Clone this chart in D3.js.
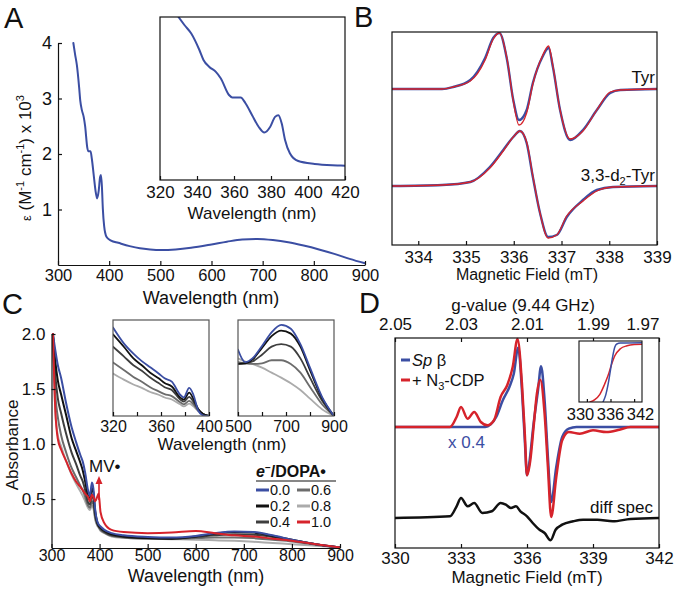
<!DOCTYPE html>
<html><head><meta charset="utf-8">
<script src="https://cdn.jsdelivr.net/npm/d3@7"></script>
<style>
body{margin:0;background:#fff}
text{font-family:"Liberation Sans",Arial,Helvetica,sans-serif;fill:#111}
</style>
</head><body>
<svg id="c" width="677" height="589"></svg>
<script>
// ---------- DATA ----------
// Panel A: UV-vis of radical (epsilon x 10^3)
const wlA = [330,333.3,336.9,341.3,343.5,346.7,350.2,352.9,357.3,359.1,363.6,366.2,369.8,373.3,376.4,379.6,382.2,384,385.8,387.6,390.2,394.7,403.6,417.8,440,460,480,500,530,560,600,630,660,690,720,750,780,810,840,870,900];
const epsA = [4.0,3.80,3.60,3.20,2.96,2.79,2.67,2.51,2.11,2.05,2.05,1.91,1.62,1.34,1.20,1.34,1.58,1.62,1.42,1.02,0.70,0.51,0.44,0.40,0.34,0.30,0.28,0.27,0.28,0.31,0.37,0.42,0.46,0.47,0.45,0.41,0.35,0.28,0.20,0.11,0.03];
const ticksAx = [300,400,500,600,700,800,900];
const ticksAy = [1,2,3,4];
const ticksAinset = [320,340,360,380,400,420];

// Panel B: EPR, Tyr and 3,3-d2-Tyr (blue = data, red = simulation)
const fieldTyr = [333.45,334.5,334.73,335.09,335.4,335.57,335.7,335.86,335.99,336.11,336.27,336.4,336.6,336.73,336.82,336.97,337.18,337.45,337.74,338.02,338.23,339];
const tyrBlue  = [0,0,2,9,31,51,56,29,-11,-31,-21,6,32,41,22,-21,-51,-41,-21,-4,-1,0];
const tyrRed   = [0,0,2,8,29,50,56,30,-12,-36,-24,5,33,43,23,-21,-50,-42,-21,-3,-1,0];
const fieldD2  = [333.45,334.5,335.09,335.5,335.78,335.99,336.13,336.27,336.4,336.55,336.72,336.9,337.11,337.45,337.74,338.08,339];
const d2Blue   = [0,1,4,19,36,49,55,43,9,-27,-51,-49,-31,-14,-4,-1,0];
const d2Red    = [0,1,4,18,35,49,55,44,10,-27,-52,-49,-30,-15,-5,-1,0];
const offTyr = 156, offD2 = 59;
const ticksB = [334,335,336,337,338,339];

// Panel C: titration, e-/DOPA.
const ratiosC = ["0.0","0.2","0.4","0.6","0.8","1.0"];
const wlC = [303,308,313,320,330,342,351,360,365,370,376,380,384,387,391,395,398,402,410,425,450,500,550,600,640,680,720,760,800,850,900];
const absC00 = [2.0,1.85,1.72,1.60,1.38,1.15,1.02,0.90,0.84,0.74,0.58,0.53,0.65,0.60,0.40,0.30,0.27,0.25,0.22,0.19,0.17,0.155,0.15,0.165,0.19,0.205,0.20,0.17,0.13,0.09,0.06];
const absC02 = [2.0,1.75,1.58,1.45,1.27,1.05,0.94,0.83,0.76,0.66,0.53,0.50,0.60,0.56,0.38,0.29,0.26,0.24,0.21,0.18,0.16,0.145,0.14,0.16,0.185,0.20,0.195,0.165,0.13,0.09,0.06];
const absC04 = [2.0,1.62,1.42,1.28,1.10,0.92,0.82,0.71,0.66,0.58,0.47,0.45,0.54,0.50,0.35,0.28,0.25,0.23,0.20,0.17,0.155,0.145,0.14,0.155,0.17,0.18,0.175,0.155,0.125,0.09,0.06];
const absC06 = [2.0,1.45,1.25,1.08,0.93,0.78,0.70,0.62,0.58,0.52,0.44,0.42,0.48,0.45,0.33,0.27,0.25,0.22,0.195,0.165,0.15,0.14,0.138,0.145,0.15,0.15,0.145,0.13,0.115,0.085,0.06];
const absC08 = [2.0,1.30,1.08,0.98,0.85,0.72,0.64,0.57,0.53,0.48,0.42,0.40,0.44,0.42,0.31,0.26,0.24,0.21,0.19,0.16,0.148,0.14,0.135,0.13,0.125,0.12,0.112,0.10,0.09,0.075,0.06];
const absC10 = [2.0,1.30,1.05,0.95,0.85,0.73,0.66,0.61,0.58,0.55,0.52,0.48,0.54,0.52,0.48,0.52,0.55,0.38,0.28,0.22,0.20,0.19,0.195,0.21,0.19,0.17,0.16,0.14,0.12,0.09,0.06];
const ticksCx = [300,400,500,600,700,800,900];
const ticksCy = [0.5,1.0,1.5,2.0];
// inset 1 (320-400 nm)
const wlC1 = [320,329,337,344,351,358,363,369,376,379,383.5,387,391,395,400];
const in1C00 = [1.54,1.31,1.16,1.05,0.96,0.87,0.80,0.75,0.56,0.52,0.66,0.56,0.33,0.26,0.25];
const in1C02 = [1.44,1.26,1.09,0.99,0.88,0.80,0.73,0.68,0.52,0.49,0.59,0.50,0.35,0.28,0.25];
const in1C04 = [1.26,1.12,0.99,0.91,0.81,0.73,0.67,0.63,0.49,0.46,0.53,0.46,0.35,0.28,0.25];
const in1C06 = [1.03,0.92,0.82,0.75,0.67,0.61,0.57,0.54,0.45,0.42,0.47,0.42,0.33,0.28,0.25];
const in1C08 = [0.87,0.78,0.71,0.66,0.60,0.56,0.52,0.49,0.42,0.39,0.43,0.39,0.32,0.28,0.25];
const ticksC1 = [320,340,360,380,400];
const labelsC1 = [320,360,400];
// inset 2 (500-900 nm)
const wlC2 = [500,530,560,600,640,680,720,760,800,850,900];
const in2C00 = [0.167,0.147,0.153,0.173,0.195,0.207,0.201,0.176,0.138,0.091,0.06];
const in2C02 = [0.144,0.145,0.151,0.170,0.189,0.198,0.193,0.172,0.134,0.089,0.06];
const in2C04 = [0.144,0.145,0.148,0.159,0.172,0.176,0.172,0.153,0.122,0.085,0.06];
const in2C06 = [0.147,0.145,0.144,0.145,0.150,0.150,0.144,0.130,0.107,0.079,0.06];
const in2C08 = [0.153,0.148,0.144,0.138,0.130,0.122,0.113,0.102,0.088,0.071,0.06];
const ticksC2 = [500,600,700,800,900];
const labelsC2 = [500,700,900];

// Panel D: EPR Sp beta vs + N3-CDP, difference spectrum
const fieldBlueD = [329.9,334.1,334.6,334.9,335.2,335.4,335.6,335.77,335.9,336.0,336.1,336.3,336.5,336.64,336.8,336.95,337.1,337.33,337.6,337.9,338.25,342];
const spBeta     = [0,0,10,26.7,40,53.3,79.3,36.7,-13.3,-48.3,-36.7,3.3,36.7,60.7,26.7,-30,-75,-40,-10,-1.7,0,0];
const fieldRedD  = [329.9,332.5,332.8,333.0,333.3,333.6,333.9,334.2,334.5,334.8,335.1,335.35,335.57,335.77,335.9,336.0,336.15,336.3,336.45,336.6,336.8,336.95,337.1,337.33,337.6,337.9,338.4,339.0,339.6,340.2,340.7,341.2,342];
const spN3CDP    = [0,0,10,20,8.3,15,5,1.7,6.7,30,41.7,60,88,43.3,-6.7,-48.3,-33.3,0,33.3,47.3,13.3,-40,-90,-50,-13.3,-5,-6.7,-3.3,-5,-2.7,0,0,0];
const fieldDiff  = [329.9,332.5,332.8,333.0,333.3,333.6,333.97,334.4,334.8,335.04,335.27,335.5,335.7,336.0,336.26,336.57,336.8,337.07,337.3,337.6,338.1,338.55,339.2,339.9,340.7,342];
const diffSpec   = [0,1.7,11.7,20,11.7,15,5,6.7,15,13.3,10,11.7,6.7,1.7,-5,-11.7,-15,-22.3,-11.7,-6.7,-3.3,-1.7,-1.7,-3.3,-1,0];
const offMain = 121, offDiff = 30;
const ticksDx = [330,333,336,339,342];
const ticksDg = [2.05,2.03,2.01,1.99,1.97];
// D inset: integrated spectra
const fieldIntBlue = [334.1,334.8,335.4,335.9,336.5,337.1,337.6,338.5,344];
const intBlue      = [0,0.12,0.30,0.50,0.75,0.93,0.98,0.995,1.0];
const fieldIntRed  = [330.8,332,333.3,334.5,335.4,336.2,337.1,338.5,340.2,342,344];
const intRed       = [0,0.04,0.13,0.30,0.45,0.62,0.78,0.90,0.95,0.97,0.975];
const ticksDi = [330,336,342];

// ---------- DRAW ----------
const BLUE = '#3b4ea3', RED = '#d6232b';
const GRAYS = {"0.0":BLUE,"0.2":'#111111',"0.4":'#3e3e3e',"0.6":'#6c6c6c',"0.8":'#ababab',"1.0":RED};
const svg = d3.select('#c');
const defs = svg.append('defs');
function clip(id,x0,y0,x1,y1){
  defs.append('clipPath').attr('id',id).append('rect').attr('x',x0).attr('y',y0).attr('width',x1-x0).attr('height',y1-y0);
  return `url(#${id})`;
}
function styleAxis(sel, fs){
  sel.attr('font-family',null).attr('font-size',null);
  sel.selectAll('text').style('font-size',fs+'px').attr('fill','#111');
  sel.selectAll('path.domain, .tick line').attr('stroke','#111').attr('stroke-width',1.2);
}
function path(g, x, y, xs, ys, color, w, off=0, clipUrl=null){
  const gen = d3.line().x((d,i)=>x(xs[i])).y(d=>y(d+off)).curve(d3.curveMonotoneX);
  const p = g.append('path').attr('d',gen(ys)).attr('fill','none').attr('stroke',color)
    .attr('stroke-width',w).attr('stroke-linejoin','round').attr('stroke-linecap','round');
  if(clipUrl) p.attr('clip-path',clipUrl);
  return p;
}
function label(g, x, y, txt, fs, anchor='middle', extra={}){
  const t = g.append('text').attr('x',x).attr('y',y).attr('dy','0.35em').attr('text-anchor',anchor).style('font-size',fs+'px').text(txt);
  for(const k in extra) t.attr(k, extra[k]);
  return t;
}
function box(g,x0,y0,x1,y1,w=1.2,col='#111'){
  g.append('rect').attr('x',x0).attr('y',y0).attr('width',x1-x0).attr('height',y1-y0).attr('fill','none').attr('stroke',col).attr('stroke-width',w);
}
function panelLetter(x,y,t){ svg.append('text').attr('x',x).attr('y',y).style('font-size','29px').text(t); }

// ===== Panel A =====
{
  const g = svg.append('g');
  const x = d3.scaleLinear().domain([300,900]).range([58,365]);
  const y = d3.scaleLinear().domain([0,4]).range([265,43]);
  path(g, x, y, wlA, epsA, BLUE, 2, 0, clip('cA',58,42,366,265));
  g.append('g').attr('transform','translate(0,265)')
    .call(d3.axisBottom(x).tickValues(ticksAx).tickFormat(d3.format('d')).tickSizeInner(-4).tickSizeOuter(0).tickPadding(4)).call(s=>styleAxis(s,16.5));
  g.append('g').attr('transform','translate(58,0)')
    .call(d3.axisLeft(y).tickValues(ticksAy).tickFormat(d3.format('d')).tickSizeInner(-4).tickSizeOuter(0).tickPadding(6)).call(s=>styleAxis(s,18));
  label(g, 211, 298, 'Wavelength (nm)', 18);
  const yl = g.append('text').attr('transform','translate(31,158) rotate(-90)').attr('text-anchor','middle').style('font-size','17px');
  yl.append('tspan').style('font-size','13px').text('ε');
  yl.append('tspan').text(' (M');
  yl.append('tspan').style('font-size','11px').attr('dy',-7).text('-1');
  yl.append('tspan').attr('dy',7).text(' cm');
  yl.append('tspan').style('font-size','11px').attr('dy',-7).text('-1');
  yl.append('tspan').attr('dy',7).text(') x 10');
  yl.append('tspan').style('font-size','11px').attr('dy',-7).text('3');
  // inset
  const xi = d3.scaleLinear().domain([320,420]).range([160,345]);
  const yi = d3.scaleLinear().domain([0.05,4.0]).range([180,17]);
  g.append('rect').attr('x',160).attr('y',17).attr('width',185).attr('height',163).attr('fill','#fff');
  path(g, xi, yi, wlA, epsA, BLUE, 2, 0, clip('cAi',160,17,345,180));
  box(g,160,17,345,180);
  const ax = g.append('g').attr('transform','translate(0,180)')
    .call(d3.axisBottom(xi).tickValues(ticksAinset).tickFormat(d3.format('d')).tickSizeInner(-4).tickSizeOuter(0).tickPadding(6)).call(s=>styleAxis(s,17));
  ax.select('.domain').remove();
  label(g, 252, 213, 'Wavelength (nm)', 17);
  panelLetter(4,28,'A');
}

// ===== Panel B =====
{
  const g = svg.append('g');
  const x = d3.scaleLinear().domain([333.45,339]).range([392,657]);
  const y = d3.scaleLinear().domain([0,213]).range([245,32]);
  const cp = clip('cB',392,32,657,245);
  path(g, x, y, fieldTyr, tyrBlue, BLUE, 2.4, offTyr, cp);
  path(g, x, y, fieldTyr, tyrRed, RED, 1.3, offTyr, cp);
  path(g, x, y, fieldD2, d2Blue, BLUE, 2.4, offD2, cp);
  path(g, x, y, fieldD2, d2Red, RED, 1.3, offD2, cp);
  box(g,392,32,657,245);
  const ax = g.append('g').attr('transform','translate(0,245)')
    .call(d3.axisBottom(x).tickValues(ticksB).tickFormat(d3.format('d')).tickSizeInner(-4).tickSizeOuter(0).tickPadding(6)).call(s=>styleAxis(s,17));
  ax.select('.domain').remove();
  label(g, 527, 274, 'Magnetic Field (mT)', 16);
  label(g, 655, 77, 'Tyr', 17, 'end');
  const t = label(g, 655, 175, '', 17, 'end');
  t.append('tspan').text('3,3-d');
  t.append('tspan').style('font-size','11px').attr('dy',4).text('2');
  t.append('tspan').attr('dy',-4).text('-Tyr');
  panelLetter(354,27,'B');
}

// ===== Panel C =====
{
  const g = svg.append('g');
  const x = d3.scaleLinear().domain([300,900]).range([51.5,340]);
  const y = d3.scaleLinear().domain([0.055,2.0]).range([548,334]);
  const cp = clip('cC',51.5,333,341,548);
  const series = [["0.8",absC08],["0.6",absC06],["0.4",absC04],["0.2",absC02],["0.0",absC00],["1.0",absC10]];
  series.forEach(([k,v])=>path(g, x, y, wlC, v, GRAYS[k], 2, 0, cp));
  g.append('g').attr('transform','translate(0,548)')
    .call(d3.axisBottom(x).tickValues(ticksCx).tickFormat(d3.format('d')).tickSizeInner(-4).tickSizeOuter(0).tickPadding(2)).call(s=>styleAxis(s,16));
  g.append('g').attr('transform','translate(51.5,0)')
    .call(d3.axisLeft(y).tickValues(ticksCy).tickFormat(d3.format('.1f')).tickSizeInner(-4).tickSizeOuter(0).tickPadding(6)).call(s=>styleAxis(s,17));
  label(g, 196, 576, 'Wavelength (nm)', 18);
  label(g, 0, 0, 'Absorbance', 17, 'middle', {transform:'translate(12,445) rotate(-90)'});
  // inset 1
  const x1 = d3.scaleLinear().domain([320,400]).range([113,209]);
  const y1 = d3.scaleLinear().domain([0.25,1.65]).range([416,320]);
  const c1 = clip('cC1',113,320,209,416);
  [["0.8",in1C08],["0.6",in1C06],["0.4",in1C04],["0.2",in1C02],["0.0",in1C00]].forEach(([k,v])=>path(g,x1,y1,wlC1,v,GRAYS[k],1.8,0,c1));
  box(g,113,320,209,416,1.2,'#555');
  const a1 = g.append('g').attr('transform','translate(0,416)')
    .call(d3.axisBottom(x1).tickValues(ticksC1).tickSizeInner(-4).tickSizeOuter(0).tickPadding(5)
      .tickFormat(d=>labelsC1.includes(d)?d:'')).call(s=>styleAxis(s,16));
  a1.select('.domain').remove();
  // inset 2
  const x2 = d3.scaleLinear().domain([500,900]).range([238,334]);
  const y2 = d3.scaleLinear().domain([0.06,0.215]).range([416,320]);
  const c2 = clip('cC2',238,320,334,416);
  [["0.8",in2C08],["0.6",in2C06],["0.4",in2C04],["0.2",in2C02],["0.0",in2C00]].forEach(([k,v])=>path(g,x2,y2,wlC2,v,GRAYS[k],1.8,0,c2));
  box(g,238,320,334,416,1.2,'#555');
  const a2 = g.append('g').attr('transform','translate(0,416)')
    .call(d3.axisBottom(x2).tickValues(ticksC2).tickSizeInner(-4).tickSizeOuter(0).tickPadding(5)
      .tickFormat(d=>labelsC2.includes(d)?d:'')).call(s=>styleAxis(s,16));
  a2.select('.domain').remove();
  label(g, 222, 444, 'Wavelength (nm)', 17);
  // MV label & arrow
  label(g, 89, 466, 'MV•', 17, 'start');
  g.append('line').attr('x1',99).attr('x2',99).attr('y1',500).attr('y2',483).attr('stroke',RED).attr('stroke-width',1.6);
  g.append('path').attr('d','M95.5,484 L99,476 L102.5,484 Z').attr('fill',RED);
  // legend
  const lt = label(g, 256, 471, '', 16, 'start', {'font-weight':'bold'});
  lt.append('tspan').attr('font-style','italic').text('e');
  lt.append('tspan').style('font-size','10px').attr('dy',-6).text('−');
  lt.append('tspan').attr('dy',6).text('/DOPA•');
  g.append('line').attr('x1',256).attr('x2',336).attr('y1',481).attr('y2',481).attr('stroke','#111').attr('stroke-width',1.2);
  ratiosC.forEach((r,i)=>{
    const col = i<3?0:1, row = i%3;
    const lx = col===0?256:297, ly = 490+row*16;
    g.append('line').attr('x1',lx).attr('x2',lx+13).attr('y1',ly).attr('y2',ly).attr('stroke',GRAYS[r]).attr('stroke-width',3);
    label(g, lx+14, ly, r, 14.5, 'start');
  });
  panelLetter(2,314,'C');
}

// ===== Panel D =====
{
  const g = svg.append('g');
  const x = d3.scaleLinear().domain([330,342]).range([395,659]);
  const y = d3.scaleLinear().domain([0,210]).range([548,338]);
  const gv = d3.scaleLinear().domain([2.05,1.97]).range([395,659]);
  const cp = clip('cD',395,337,659,548);
  path(g, x, y, fieldBlueD, spBeta, BLUE, 2.5, offMain, cp);
  path(g, x, y, fieldRedD, spN3CDP, RED, 2.5, offMain, cp);
  path(g, x, y, fieldDiff, diffSpec, '#111', 2.5, offDiff, cp);
  box(g,395,338,659,548);
  const ab = g.append('g').attr('transform','translate(0,548)')
    .call(d3.axisBottom(x).tickValues(ticksDx).tickFormat(d3.format('d')).tickSizeInner(-4).tickSizeOuter(0).tickPadding(4)).call(s=>styleAxis(s,17));
  ab.select('.domain').remove();
  const at = g.append('g').attr('transform','translate(0,338)')
    .call(d3.axisTop(gv).tickValues(ticksDg).tickFormat(d3.format('.2f')).tickSizeInner(-4).tickSizeOuter(0).tickPadding(8)).call(s=>styleAxis(s,17));
  at.select('.domain').remove();
  at.selectAll('.tick text').filter(d=>d===1.97).attr('text-anchor','end');
  label(g, 527, 577, 'Magnetic Field (mT)', 17);
  label(g, 523, 305, 'g-value (9.44 GHz)', 17);
  // legend
  g.append('line').attr('x1',401).attr('x2',410).attr('y1',360).attr('y2',360).attr('stroke',BLUE).attr('stroke-width',3);
  const l1 = label(g, 412, 360, '', 16.5, 'start');
  l1.append('tspan').attr('font-style','italic').text('Sp');
  l1.append('tspan').text(' β');
  g.append('line').attr('x1',401).attr('x2',410).attr('y1',380).attr('y2',380).attr('stroke',RED).attr('stroke-width',3);
  const l2 = label(g, 412, 380, '', 16.5, 'start');
  l2.append('tspan').text('+ N');
  l2.append('tspan').style('font-size','11px').attr('dy',4).text('3');
  l2.append('tspan').attr('dy',-4).text('-CDP');
  label(g, 448, 442, 'x 0.4', 17, 'start').style('fill',BLUE);
  label(g, 653, 507, 'diff spec', 17, 'end');
  // inset
  const xi = d3.scaleLinear().domain([328,344]).range([579,642]);
  const yi = d3.scaleLinear().domain([0,1.03]).range([402,341]);
  g.append('rect').attr('x',579).attr('y',341).attr('width',63).attr('height',61).attr('fill','#fff');
  const ci = clip('cDi',579,341,642,402);
  path(g, xi, yi, fieldIntRed, intRed, RED, 1.5, 0, ci);
  path(g, xi, yi, fieldIntBlue, intBlue, BLUE, 1.5, 0, ci);
  box(g,579,341,642,402,1.1);
  const ai = g.append('g').attr('transform','translate(0,402)')
    .call(d3.axisBottom(xi).tickValues(ticksDi).tickSizeInner(-3).tickSizeOuter(0).tickFormat('')).call(s=>styleAxis(s,17));
  ai.select('.domain').remove();
  ticksDi.forEach(v=>label(g, xi(336)+(v-336)/6*30, 414, String(v), 16.5));
  panelLetter(359,313,'D');
}
</script>
</body></html>
